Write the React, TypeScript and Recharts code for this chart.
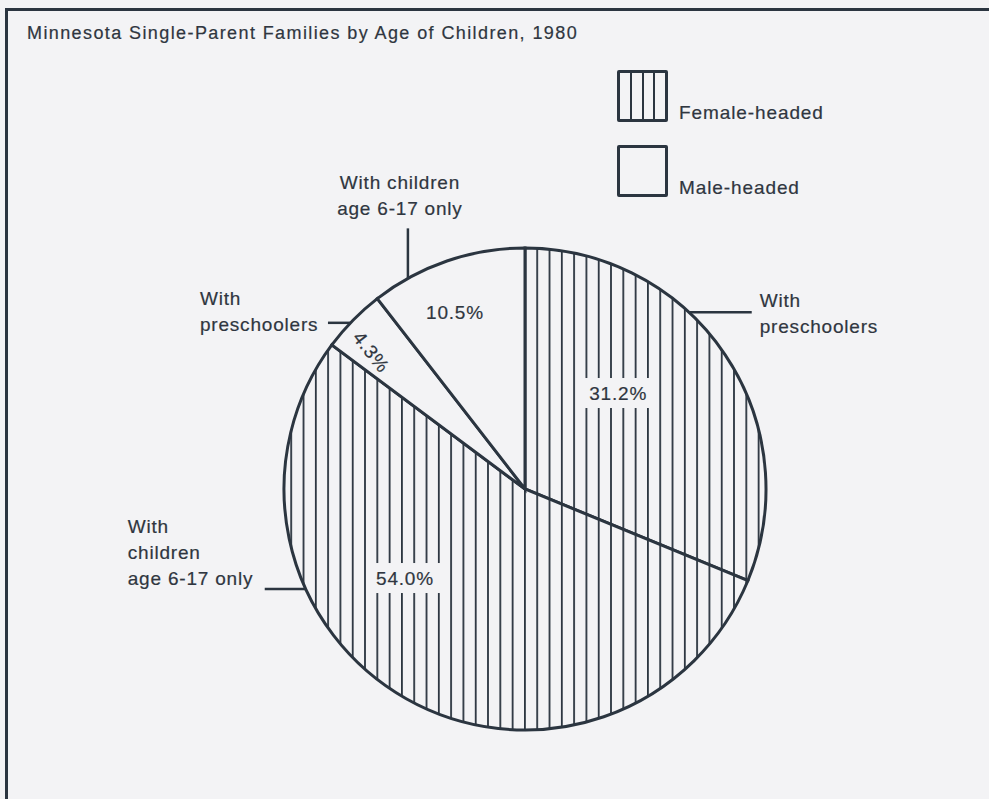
import * as React from 'react'
import { PieChart, Pie, Cell, Legend } from 'recharts'

// slices, clockwise from 12 o'clock
const slices = [
  'Female-headed, with preschoolers',
  'Female-headed, with children age 6-17 only',
  'Male-headed, with preschoolers',
  'Male-headed, with children age 6-17 only',
]
const values = [31.2, 54.0, 4.3, 10.5]
const heads = ['Female-headed', 'Female-headed', 'Male-headed', 'Male-headed']
const groupLabels = [
  ['With', 'preschoolers'],
  ['With', 'children', 'age 6-17 only'],
  ['With', 'preschoolers'],
  ['With children', 'age 6-17 only'],
]
const legendItems = ['Female-headed', 'Male-headed']
const title = 'Minnesota Single-Parent Families by Age of Children, 1980'

const data = slices.map((name, i) => ({ name, value: values[i], head: heads[i] }))

const INK = '#2b3540'
const TEXT = '#2f3640'
const PAPER = '#f3f3f5'
const FONT = '"Liberation Sans", Arial, Helvetica, sans-serif'
const RADIAN = Math.PI / 180
const CX = 525
const CY = 489

// where each slice puts its labels (t = fraction along the slice's arc)
const labelLayout = [
  { t: 0.393, r: 0.555, rot: 0, bg: true, leaderT: 0.381, lx: 63, ly: 0, tx: 8, ty: -5, anchor: 'start' },
  { t: 0.623, r: 0.62, rot: 0, bg: true, leaderT: 0.685, lx: -41, ly: 0, tx: -137, ty: -56, anchor: 'start' },
  { t: 0.32, r: 0.855, rot: 52, bg: false, leaderT: 0.444, lx: -22.5, ly: 0, tx: -128, ty: -18, anchor: 'start' },
  { t: 0.426, r: 0.786, rot: 0, bg: false, leaderT: 0.231, lx: 0, ly: -50, tx: -8, ty: -39, anchor: 'middle' },
]

const polar = (cx: number, cy: number, r: number, angle: number) => ({
  x: cx + r * Math.cos(-angle * RADIAN),
  y: cy + r * Math.sin(-angle * RADIAN),
})

const textStyle = {
  fontSize: 19,
  letterSpacing: 0.8,
  fill: TEXT,
  fontFamily: FONT,
  stroke: TEXT,
  strokeWidth: 0.2,
}

const renderLabel = (props: any) => {
  const { cx, cy, outerRadius, startAngle, endAngle, index, value } = props
  const lay = labelLayout[index]
  const at = (t: number) => startAngle + t * (endAngle - startAngle)
  const p = polar(cx, cy, outerRadius * lay.r, at(lay.t))
  const a = polar(cx, cy, outerRadius, at(lay.leaderT))
  const e = { x: a.x + lay.lx, y: a.y + lay.ly }
  return (
    <g key={'lbl' + index}>
      {lay.bg && <rect x={p.x - 38} y={p.y - 15} width={76} height={30} fill={PAPER} />}
      <text
        x={p.x}
        y={p.y}
        textAnchor="middle"
        dominantBaseline="central"
        {...textStyle}
        transform={lay.rot ? `rotate(${lay.rot} ${p.x} ${p.y})` : undefined}
      >
        {value.toFixed(1)}%
      </text>
      <line x1={a.x} y1={a.y} x2={e.x} y2={e.y} stroke={INK} strokeWidth={2.5} />
      <text x={e.x + lay.tx} y={e.y + lay.ty} textAnchor={lay.anchor as any} {...textStyle}>
        {groupLabels[index].map((line, k) => (
          <tspan key={k} x={e.x + lay.tx} dy={k === 0 ? 0 : 26}>
            {line}
          </tspan>
        ))}
      </text>
    </g>
  )
}

const renderLegend = () => (
  <div style={{ fontFamily: FONT }}>
    {legendItems.map((item, i) => (
      <div key={item} style={{ display: 'flex', alignItems: 'flex-end', height: 52, marginBottom: 23 }}>
        <div
          style={{
            position: 'relative',
            width: 51,
            height: 52,
            boxSizing: 'border-box',
            border: `3px solid ${INK}`,
            borderRadius: 2,
          }}
        >
          {i === 0 &&
            [1, 2, 3].map((k) => (
              <div
                key={k}
                style={{
                  position: 'absolute',
                  top: 0,
                  bottom: 0,
                  left: k * 11.25 - 1,
                  width: 2,
                  background: INK,
                }}
              />
            ))}
        </div>
        <span
          style={{
            marginLeft: 11,
            fontSize: 19,
            letterSpacing: 0.9,
            color: TEXT,
            lineHeight: '19px',
            WebkitTextStroke: `0.2px ${TEXT}`,
          }}
        >
          {item}
        </span>
      </div>
    ))}
  </div>
)

export default function App() {
  return (
    <div
      style={{
        position: 'absolute',
        left: 0,
        top: 0,
        width: 989,
        height: 799,
        background: PAPER,
        overflow: 'hidden',
        fontFamily: FONT,
      }}
    >
      <div
        style={{
          position: 'absolute',
          left: 5,
          top: 8,
          width: 1000,
          height: 820,
          borderTop: `3px solid ${INK}`,
          borderLeft: `3px solid ${INK}`,
        }}
      />
      <div
        style={{
          position: 'absolute',
          left: 27,
          top: 23,
          fontSize: 18,
          letterSpacing: 1.4,
          color: TEXT,
          whiteSpace: 'nowrap',
          WebkitTextStroke: `0.2px ${TEXT}`,
        }}
      >
        {title}
      </div>
      <div style={{ position: 'absolute', left: 0, top: 0 }}>
        <PieChart width={989} height={799} margin={{ top: 0, right: 0, bottom: 0, left: 0 }}>
          <defs>
            <pattern id="vstripes" patternUnits="userSpaceOnUse" x={CX - 1} y={0} width={12.3} height={12}>
              <rect x={0} y={0} width={12.3} height={12} fill={PAPER} />
              <rect x={0} y={0} width={1.8} height={12} fill={INK} />
            </pattern>
          </defs>
          <Pie
            data={data}
            dataKey="value"
            nameKey="name"
            cx={CX}
            cy={CY}
            outerRadius={241}
            startAngle={90}
            endAngle={-270}
            stroke={INK}
            strokeWidth={3}
            label={renderLabel}
            labelLine={false}
            isAnimationActive={false}
          >
            {data.map((d, i) => (
              <Cell key={i} fill={d.head === 'Female-headed' ? 'url(#vstripes)' : PAPER} />
            ))}
          </Pie>
          <Legend
            content={renderLegend}
            wrapperStyle={{ position: 'absolute', left: 617, top: 70, width: 300, height: 'auto', bottom: 'auto' }}
          />
        </PieChart>
      </div>
    </div>
  )
}
